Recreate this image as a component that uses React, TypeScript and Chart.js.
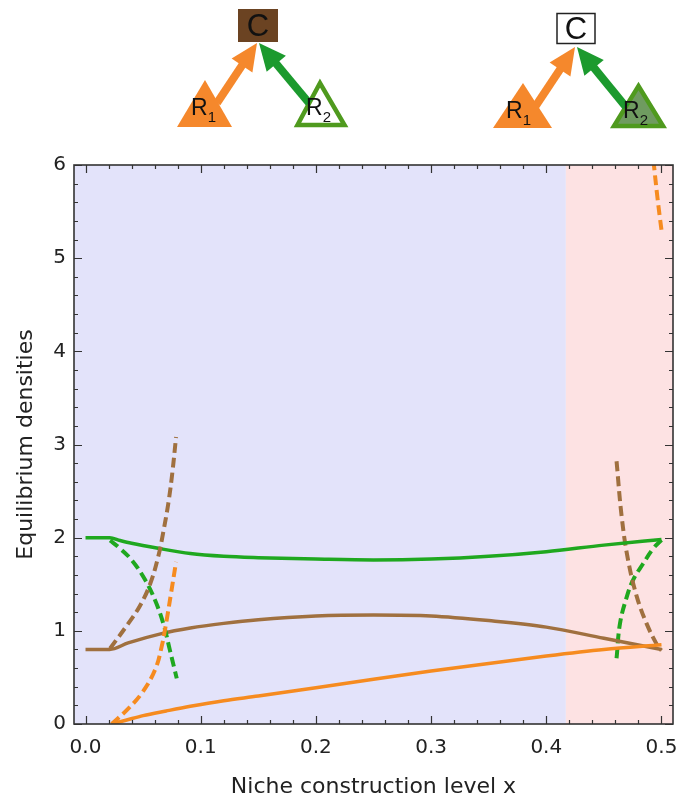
import React, { useEffect, useRef } from "react";
import { Chart, registerables } from "chart.js";

Chart.register(...registerables);

// ---- axis set-up ----
const X_MIN = -0.01;
const X_MAX = 0.51;
const Y_MIN = 0;
const Y_MAX = 6;
const X_TICKS = [0, 0.1, 0.2, 0.3, 0.4, 0.5];
const Y_TICKS = [0, 1, 2, 3, 4, 5, 6];
const X_MINOR_STEP = 0.02;
const Y_MINOR_STEP = 0.2;
const REGION_SPLIT = 0.417;

// ---- series ----
const greenSolidX = [0, 0.021, 0.03, 0.04, 0.063, 0.091, 0.12, 0.15, 0.2, 0.25, 0.3, 0.35, 0.4, 0.45, 0.5];
const greenSolidY = [2.0, 2.0, 1.97, 1.94, 1.886, 1.83, 1.8, 1.785, 1.77, 1.76, 1.77, 1.8, 1.85, 1.92, 1.98];

const brownSolidX = [0, 0.021, 0.037, 0.066, 0.091, 0.12, 0.15, 0.2, 0.25, 0.3, 0.35, 0.4, 0.45, 0.5];
const brownSolidY = [0.8, 0.8, 0.87, 0.97, 1.03, 1.08, 1.12, 1.16, 1.17, 1.16, 1.11, 1.04, 0.92, 0.8];

const orangeSolidX = [0.0227, 0.035, 0.05, 0.07, 0.091, 0.12, 0.15, 0.2, 0.25, 0.3, 0.35, 0.4, 0.45, 0.5];
const orangeSolidY = [0, 0.04, 0.09, 0.14, 0.19, 0.25, 0.3, 0.39, 0.48, 0.57, 0.65, 0.73, 0.8, 0.85];

const brownDashLeftX = [0.0213, 0.0372, 0.0473, 0.056, 0.0632, 0.0675, 0.0719, 0.0753, 0.0786];
const brownDashLeftY = [0.81, 1.08, 1.27, 1.5, 1.8, 2.06, 2.37, 2.69, 3.08];

const greenDashLeftX = [0.0213, 0.0285, 0.0401, 0.0516, 0.0603, 0.0675, 0.0733, 0.0792];
const greenDashLeftY = [1.97, 1.9, 1.76, 1.55, 1.33, 1.08, 0.79, 0.49];

const orangeDashLeftX = [0.0227, 0.0358, 0.0488, 0.0603, 0.0661, 0.0705, 0.0742, 0.0786];
const orangeDashLeftY = [0, 0.15, 0.33, 0.58, 0.83, 1.12, 1.4, 1.74];

const brownDashRightX = [0.461, 0.4655, 0.471, 0.4785, 0.487, 0.497, 0.5];
const brownDashRightY = [2.82, 2.22, 1.76, 1.37, 1.08, 0.83, 0.79];

const greenDashRightX = [0.461, 0.464, 0.47, 0.4755, 0.484, 0.493, 0.5];
const greenDashRightY = [0.705, 1.08, 1.37, 1.55, 1.72, 1.886, 1.975];

const orangeDashRightX = [0.493, 0.4965, 0.5];
const orangeDashRightY = [6.05, 5.65, 5.3];

// ---- styles ----
const GREEN = "#1fa81f";
const BROWN = "#a0703f";
const ORANGE = "#f68b1f";
const LAVENDER = "#e3e3fa";
const PINK = "#fde2e3";
const FRAME = "#333333";
const DASH = [10, 5];

const zip = (xs: number[], ys: number[]) => xs.map((x, i) => ({ x, y: ys[i] }));

const minorValues = (min: number, max: number, step: number) => {
  const out: number[] = [];
  for (let i = 0; min + i * step <= max + 1e-9; i++) out.push(+(min + i * step).toFixed(4));
  return out;
};

const backgroundPlugin = {
  id: "regions",
  beforeDatasetsDraw(chart: any) {
    const { ctx, chartArea: a, scales } = chart;
    const split = scales.x.getPixelForValue(REGION_SPLIT);
    ctx.save();
    ctx.fillStyle = LAVENDER;
    ctx.fillRect(a.left, a.top, split - a.left, a.bottom - a.top);
    ctx.fillStyle = PINK;
    ctx.fillRect(split, a.top, a.right - split, a.bottom - a.top);
    ctx.restore();
  },
};

const framePlugin = {
  id: "frameTicks",
  afterDatasetsDraw(chart: any) {
    const { ctx, chartArea: a, scales } = chart;
    const xs = scales.x;
    const ys = scales.y;
    ctx.save();
    ctx.strokeStyle = FRAME;
    ctx.lineWidth = 1.2;
    const xMinor = minorValues(0, 0.5, X_MINOR_STEP);
    const yMinor = minorValues(0, 6, Y_MINOR_STEP);
    ctx.beginPath();
    xMinor.forEach((v) => {
      const major = X_TICKS.some((t) => Math.abs(t - v) < 1e-6);
      const len = major ? 8 : 4;
      const px = Math.round(xs.getPixelForValue(v)) + 0.5;
      ctx.moveTo(px, a.bottom);
      ctx.lineTo(px, a.bottom - len);
      ctx.moveTo(px, a.top);
      ctx.lineTo(px, a.top + len);
    });
    yMinor.forEach((v) => {
      const major = Y_TICKS.some((t) => Math.abs(t - v) < 1e-6);
      const len = major ? 8 : 4;
      const py = Math.round(ys.getPixelForValue(v)) + 0.5;
      ctx.moveTo(a.left, py);
      ctx.lineTo(a.left + len, py);
      ctx.moveTo(a.right, py);
      ctx.lineTo(a.right - len, py);
    });
    ctx.stroke();
    ctx.lineWidth = 1.6;
    ctx.strokeRect(a.left, a.top, a.right - a.left, a.bottom - a.top);
    ctx.restore();
  },
};

function arrowPoly(x1: number, y1: number, x2: number, y2: number, headLen: number, headW: number) {
  const dx = x2 - x1;
  const dy = y2 - y1;
  const L = Math.hypot(dx, dy);
  const ux = dx / L;
  const uy = dy / L;
  const px = -uy;
  const py = ux;
  const bx = x2 - ux * headLen;
  const by = y2 - uy * headLen;
  return {
    shaftEnd: [bx + ux * 2, by + uy * 2],
    head: `${x2},${y2} ${bx + px * headW / 2},${by + py * headW / 2} ${bx - px * headW / 2},${by - py * headW / 2}`,
  };
}

function Arrow({ x1, y1, x2, y2, color }: { x1: number; y1: number; x2: number; y2: number; color: string }) {
  const a = arrowPoly(x1, y1, x2, y2, 27, 25);
  return (
    <g>
      <line x1={x1} y1={y1} x2={a.shaftEnd[0]} y2={a.shaftEnd[1]} stroke={color} strokeWidth={8} />
      <polygon points={a.head} fill={color} />
    </g>
  );
}

function RLabel({ x, y, sub }: { x: number; y: number; sub: string }) {
  return (
    <text x={x} y={y} fontFamily="Liberation Sans, Arial, sans-serif" fontSize={23} fill="#111">
      R
      <tspan fontSize={15} dy={7}>
        {sub}
      </tspan>
    </text>
  );
}

function Diagrams() {
  const font = "Liberation Sans, Arial, sans-serif";
  return (
    <svg
      width={682}
      height={140}
      style={{ position: "absolute", left: 0, top: 0, pointerEvents: "none" }}
    >
      {/* left diagram */}
      <polygon points="177,127 232,127 205,80" fill="#f5882c" />
      <polygon points="297.5,125 344.5,125 320,83" fill="#ffffff" stroke="#4f9a1e" strokeWidth={4.5} />
      <Arrow x1={217} y1={103} x2={257} y2={43} color="#f5882c" />
      <Arrow x1={309} y1={103} x2={259} y2={43} color="#1c9a2e" />
      <rect x={238} y={9} width={40} height={33} fill="#6b4322" />
      <text x={258} y={36} textAnchor="middle" fontFamily={font} fontSize={31} fill="#111">
        C
      </text>
      <RLabel x={191} y={115} sub="1" />
      <RLabel x={306} y={115} sub="2" />

      {/* right diagram */}
      <polygon points="493,128 552,128 523,83" fill="#f5882c" />
      <polygon points="614,126 663,126 638.5,86" fill="#6f9b60" stroke="#4f9a1e" strokeWidth={4.5} />
      <Arrow x1={535} y1={107} x2={575} y2={47} color="#f5882c" />
      <Arrow x1={626} y1={107} x2={577} y2={47} color="#1c9a2e" />
      <rect x={557} y={13.5} width={38} height={30} fill="#ffffff" stroke="#222" strokeWidth={1.5} />
      <text x={576} y={39} textAnchor="middle" fontFamily={font} fontSize={31} fill="#111">
        C
      </text>
      <RLabel x={506} y={118} sub="1" />
      <RLabel x={623} y={118} sub="2" />
    </svg>
  );
}

export default function App() {
  const canvasRef = useRef<HTMLCanvasElement | null>(null);

  useEffect(() => {
    if (!canvasRef.current) return;
    const solid = (xs: number[], ys: number[], color: string) => ({
      data: zip(xs, ys),
      borderColor: color,
      borderWidth: 3.5,
      pointRadius: 0,
      fill: false,
      cubicInterpolationMode: "monotone" as const,
    });
    const dashed = (xs: number[], ys: number[], color: string) => ({
      data: zip(xs, ys),
      borderColor: color,
      borderWidth: 4,
      pointRadius: 0,
      fill: false,
      tension: 0.4,
      borderDash: DASH,
    });

    const chart = new Chart(canvasRef.current, {
      type: "line",
      data: {
        datasets: [
          dashed(orangeDashLeftX, orangeDashLeftY, ORANGE),
          dashed(brownDashLeftX, brownDashLeftY, BROWN),
          dashed(greenDashLeftX, greenDashLeftY, GREEN),
          dashed(orangeDashRightX, orangeDashRightY, ORANGE),
          solid(orangeSolidX, orangeSolidY, ORANGE),
          solid(brownSolidX, brownSolidY, BROWN),
          solid(greenSolidX, greenSolidY, GREEN),
          dashed(brownDashRightX, brownDashRightY, BROWN),
          dashed(greenDashRightX, greenDashRightY, GREEN),
        ] as any,
      },
      options: {
        animation: false,
        responsive: false,
        devicePixelRatio: 1,
        layout: { padding: { left: 0, top: 165, right: 9, bottom: 0 } },
        plugins: { legend: { display: false }, tooltip: { enabled: false } },
        scales: {
          x: {
            type: "linear",
            min: X_MIN,
            max: X_MAX,
            grid: { display: false, drawTicks: false },
            border: { display: false },
            afterBuildTicks: (s: any) => {
              s.ticks = X_TICKS.map((v) => ({ value: v }));
            },
            afterFit: (s: any) => {
              s.height = 74;
              s.paddingLeft = 0;
              s.paddingRight = 0;
            },
            ticks: {
              padding: 12,
              color: "#222",
              font: { family: "DejaVu Sans", size: 20 },
              maxRotation: 0,
              autoSkip: false,
              callback: (v: any) => Number(v).toFixed(1),
            },
            title: {
              display: true,
              text: "Niche construction level x",
              color: "#222",
              font: { family: "DejaVu Sans", size: 22, lineHeight: 1 },
              padding: { top: 0, bottom: 0 },
            },
          },
          y: {
            type: "linear",
            min: Y_MIN,
            max: Y_MAX,
            grid: { display: false, drawTicks: false },
            border: { display: false },
            afterBuildTicks: (s: any) => {
              s.ticks = Y_TICKS.map((v) => ({ value: v }));
            },
            afterFit: (s: any) => {
              s.width = 74;
              s.paddingTop = 0;
              s.paddingBottom = 0;
            },
            ticks: {
              padding: 8,
              color: "#222",
              font: { family: "DejaVu Sans", size: 20 },
              autoSkip: false,
              callback: (v: any) => String(v),
            },
            title: {
              display: true,
              text: "Equilibrium densities",
              color: "#222",
              font: { family: "DejaVu Sans", size: 22, lineHeight: 1 },
              padding: { top: 15, bottom: 0 },
            },
          },
        },
      },
      plugins: [backgroundPlugin, framePlugin],
    });
    return () => chart.destroy();
  }, []);

  return (
    <div style={{ position: "absolute", left: 0, top: 0, width: 682, height: 798, background: "#fff" }}>
      <canvas ref={canvasRef} width={682} height={798} style={{ width: 682, height: 798, display: "block" }} />
      <Diagrams />
    </div>
  );
}
